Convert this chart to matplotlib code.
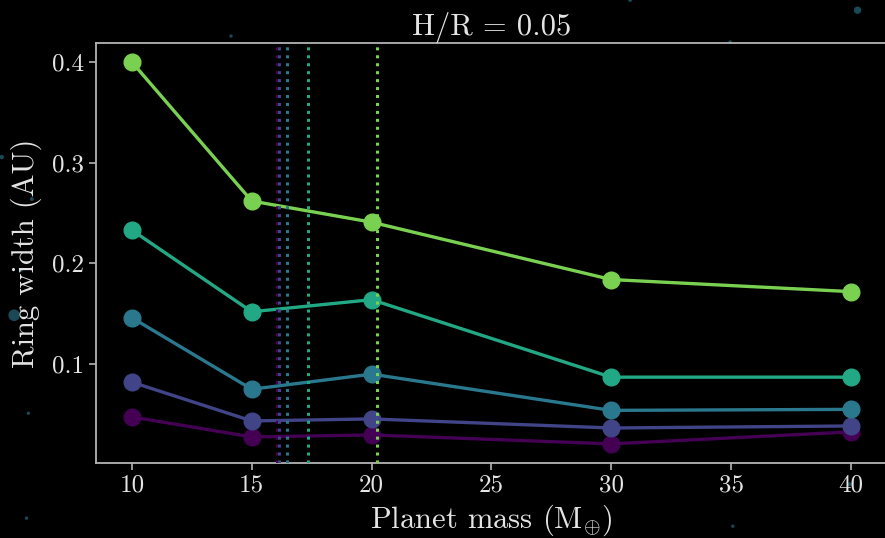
import numpy as np
import matplotlib
matplotlib.use("Agg")
import matplotlib.pyplot as plt

# ---- data ----
masses = [10, 15, 20, 30, 40]
width_s0 = [0.0475, 0.0276, 0.0296, 0.0207, 0.0326]
width_s1 = [0.082, 0.0435, 0.0455, 0.0365, 0.0385]
width_s2 = [0.146, 0.075, 0.090, 0.054, 0.055]
width_s3 = [0.233, 0.152, 0.164, 0.087, 0.087]
width_s4 = [0.400, 0.262, 0.241, 0.184, 0.172]
series = [width_s0, width_s1, width_s2, width_s3, width_s4]
vlines_x = [16.05, 16.13, 16.45, 17.34, 20.22]
color_fracs = [0.0, 0.2, 0.4, 0.6, 0.8]
xticks = [10, 15, 20, 25, 30, 35, 40]
yticks = [0.1, 0.2, 0.3, 0.4]

# decorative background dots (figure fraction coords)
bg_x = [0.969, 0.016, 0.261, 0.825, 0.002, 0.036, 0.024, 0.032, 0.030, 0.828, 0.960, 0.712]
bg_y = [0.981, 0.414, 0.933, 0.922, 0.708, 0.630, 0.498, 0.232, 0.037, 0.022, 0.100, 1.0]
bg_s = [28, 70, 6, 6, 10, 8, 6, 6, 6, 6, 8, 8]

plt.rcParams['font.family'] = 'serif'
plt.rcParams['font.serif'] = ['cmr10', 'DejaVu Serif']
plt.rcParams['mathtext.fontset'] = 'cm'
plt.rcParams['axes.unicode_minus'] = False
plt.rcParams['axes.formatter.use_mathtext'] = True

fig = plt.figure(figsize=(8.85, 5.38), dpi=100, facecolor='black')
bgax = fig.add_axes([0, 0, 1, 1], facecolor='none')
bgax.set_xlim(0, 1); bgax.set_ylim(0, 1); bgax.axis('off')
bgax.scatter(bg_x, bg_y, s=bg_s, color='#1f5566', alpha=0.85, linewidths=0, zorder=0)

ax = fig.add_axes([0.1085, 0.1394, 0.8935, 0.7806], facecolor='black')
ax.patch.set_alpha(0)

cmap = plt.get_cmap('viridis')
for ys, f in zip(series, color_fracs):
    ax.plot(masses, ys, '-o', color=cmap(f), lw=2.4, ms=12, zorder=2)
for xv, f in zip(vlines_x, color_fracs):
    ax.axvline(xv, color=cmap(f), ls=(0, (1, 1.6)), lw=2.2, zorder=3)

ax.set_xlim(8.5, 41.5)
ax.set_ylim(0.0017, 0.419)
ax.set_xticks(xticks)
ax.set_yticks(yticks)
ax.set_xticklabels([str(t) for t in xticks])
ax.set_yticklabels([str(t) for t in yticks])

spine_col = '#b4b4b4'
txt_col = '#e4e4e4'
for sp in ax.spines.values():
    sp.set_color(spine_col)
    sp.set_linewidth(1.3)
ax.tick_params(colors=spine_col, labelcolor=txt_col, labelsize=18, length=5, width=1.2)

ax.set_xlabel(r'Planet mass (M$_{\oplus}$)', color=txt_col, fontsize=22, labelpad=4)
ax.set_ylabel('Ring width (AU)', color=txt_col, fontsize=22, labelpad=7)
ax.set_title('H/R = 0.05', color=txt_col, fontsize=22, pad=6)

fig.savefig('out.png', dpi=100, facecolor='black')
